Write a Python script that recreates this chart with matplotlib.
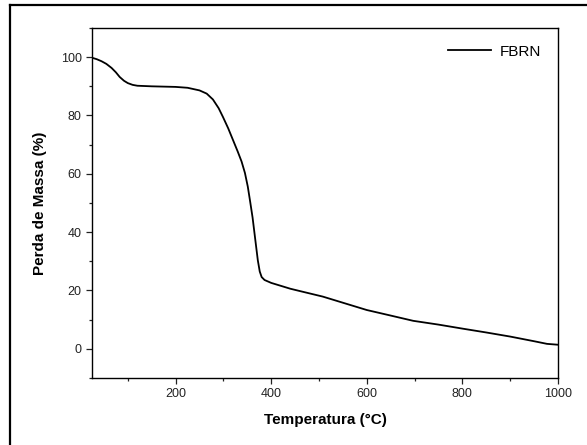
import matplotlib
matplotlib.use("Agg")
import matplotlib.pyplot as plt
from matplotlib.lines import Line2D
from matplotlib.ticker import MultipleLocator

# TGA curve
temperature = [25, 35, 45, 55, 66, 75, 83, 92, 100, 110, 120, 150, 200, 225, 250,
               265, 278, 290, 299, 310, 320, 330, 338, 345, 351, 356, 361, 366,
               372, 376, 380, 386, 400, 420, 440, 460, 508, 550, 600, 650, 697,
               750, 801, 850, 900, 950, 977, 1000]
mass_loss = [99.8, 99.3, 98.6, 97.7, 96.3, 94.8, 93.2, 91.9, 91.1, 90.5, 90.2, 90.0,
             89.8, 89.5, 88.6, 87.5, 85.5, 82.5, 79.5, 75.6, 71.6, 67.6, 64.2, 60.3,
             55.6, 50.4, 45.0, 38.3, 30.3, 26.5, 24.6, 23.6, 22.6, 21.6, 20.6, 19.8,
             17.9, 15.8, 13.3, 11.4, 9.6, 8.3, 6.9, 5.6, 4.2, 2.6, 1.7, 1.4]
series_label = "FBRN"

plt.rcParams["font.family"] = ["Liberation Sans", "DejaVu Sans"]

fig = plt.figure(figsize=(5.87, 4.45), dpi=100)
ax = fig.add_axes([0.1567, 0.1506, 0.7939, 0.7865])

ax.plot(temperature, mass_loss, color="black", lw=1.3, label=series_label)

ax.set_xlim(25, 1000)
ax.set_ylim(-10, 110)
ax.xaxis.set_major_locator(MultipleLocator(200))
ax.xaxis.set_minor_locator(MultipleLocator(100))
ax.yaxis.set_major_locator(MultipleLocator(20))
ax.yaxis.set_minor_locator(MultipleLocator(10))
ax.tick_params(which="both", direction="out", top=False, right=False,
               labelsize=9, colors="#222222", width=0.9)
ax.tick_params(which="major", length=4)
ax.tick_params(which="minor", length=2.5)
for sp in ax.spines.values():
    sp.set_linewidth(1.0)

ax.set_xlabel("Temperatura (°C)", fontsize=11, fontweight="bold", labelpad=9)
ax.set_ylabel("Perda de Massa (%)", fontsize=11, fontweight="bold", labelpad=10)

ax.legend(loc="upper right", frameon=False, fontsize=11, handlelength=2.8,
          borderaxespad=0.7, handletextpad=0.6)

# outer frame (only top and left edges visible in the reference)
fig.add_artist(Line2D([10 / 587, 10 / 587], [0, 1 - 5 / 445], transform=fig.transFigure,
                      color="black", lw=1.6))
fig.add_artist(Line2D([10 / 587, 1], [1 - 5 / 445, 1 - 5 / 445], transform=fig.transFigure,
                      color="black", lw=1.6))

fig.savefig("out.png", dpi=100)
